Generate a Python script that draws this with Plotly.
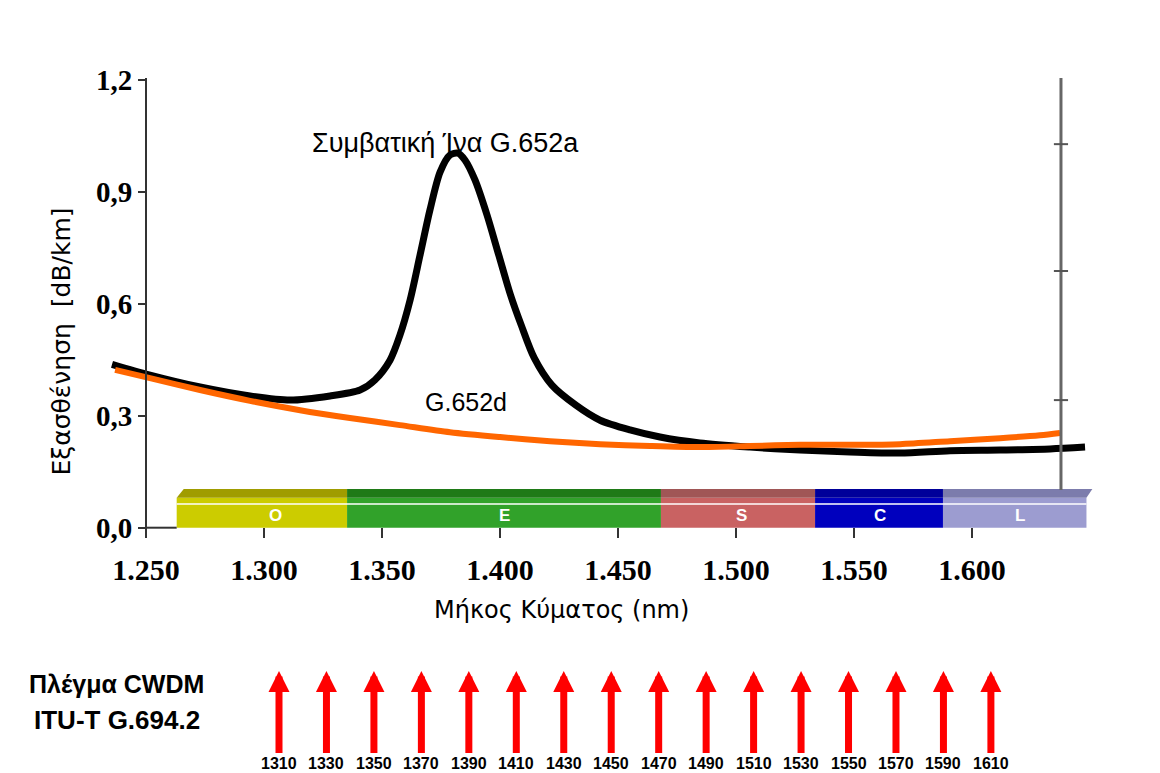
import plotly.graph_objects as go

# ---- data ----
wl_a = [1235.6, 1251.7, 1272.9, 1294.1, 1311.0, 1328.0, 1340.7, 1347.0, 1353.4, 1357.6,
        1361.9, 1366.1, 1370.3, 1374.6, 1378.8, 1382.2, 1385.2, 1389.4, 1394.5, 1399.5,
        1404.5, 1409.0, 1414.5, 1422.0, 1432.0, 1442.4, 1455.1, 1467.8, 1484.7, 1505.9,
        1527.1, 1548.3, 1569.5, 1590.7, 1611.9, 1633.1, 1647.9]
att_a = [0.438, 0.409, 0.377, 0.353, 0.342, 0.353, 0.369, 0.396, 0.449, 0.516,
         0.610, 0.730, 0.851, 0.953, 0.999, 1.004, 0.985, 0.932, 0.838, 0.730,
         0.623, 0.543, 0.455, 0.382, 0.329, 0.288, 0.262, 0.243, 0.227, 0.216,
         0.208, 0.203, 0.200, 0.206, 0.208, 0.211, 0.216]

wl_d = [1236.9, 1251.7, 1272.9, 1294.1, 1315.3, 1336.4, 1357.6, 1378.8, 1400.0, 1421.2,
        1442.4, 1463.6, 1484.7, 1505.9, 1527.1, 1548.3, 1569.5, 1590.7, 1611.9, 1628.8,
        1637.3]
att_d = [0.423, 0.401, 0.369, 0.340, 0.315, 0.294, 0.275, 0.256, 0.243, 0.232,
         0.224, 0.219, 0.216, 0.219, 0.222, 0.222, 0.224, 0.232, 0.240, 0.248,
         0.254]

band_names = ["O", "E", "S", "C", "L"]
band_edges = [1263.0, 1335.2, 1468.2, 1533.5, 1587.7, 1648.5]
band_label_wl = [1304.7, 1402.0, 1502.5, 1561.0, 1620.3]
band_front = ["#CCCC00", "#31A22A", "#C96262", "#0000BE", "#9C9CD0"]
band_top = ["#A09C00", "#1F7A17", "#A05656", "#00009A", "#7C7CAC"]

cwdm_channels = [1310, 1330, 1350, 1370, 1390, 1410, 1430, 1450, 1470, 1490,
                 1510, 1530, 1550, 1570, 1590, 1610]
cwdm_labels = [str(c) for c in cwdm_channels]

x_tickvals = [1250, 1300, 1350, 1400, 1450, 1500, 1550, 1600]
x_ticktext = ["1.250", "1.300", "1.350", "1.400", "1.450", "1.500", "1.550", "1.600"]
y_tickvals = [0.0, 0.3, 0.6, 0.9, 1.2]
y_ticktext = ["0,0", "0,3", "0,6", "0,9", "1,2"]

W, H = 1160, 773

fig = go.Figure()

fig.add_trace(go.Scatter(x=wl_a, y=att_a, mode="lines",
                         line=dict(color="#000000", width=7, shape="spline", smoothing=0.8),
                         hoverinfo="skip", showlegend=False))
fig.add_trace(go.Scatter(x=wl_d, y=att_d, mode="lines",
                         line=dict(color="#FF6600", width=6, shape="spline", smoothing=0.8),
                         hoverinfo="skip", showlegend=False))
# invisible trace for the CWDM grid axis
fig.add_trace(go.Scatter(x=cwdm_channels, y=[-1] * len(cwdm_channels), xaxis="x2", yaxis="y",
                         mode="markers", marker=dict(opacity=0), hoverinfo="skip",
                         showlegend=False))

shapes = []
# wavelength bands (3D-like bars)
y_front_top = 0.08
y_top = 0.104
for i, name in enumerate(band_names):
    x0, x1 = band_edges[i], band_edges[i + 1]
    shapes.append(dict(type="rect", xref="x", yref="y", x0=x0, x1=x1, y0=0, y1=y_front_top,
                       fillcolor=band_front[i], line=dict(width=0), layer="above"))
    left = x0 + (3 if i == 0 else 0)
    right = x1 + (2.5 if i == len(band_names) - 1 else 0)
    shapes.append(dict(type="path", xref="x", yref="y",
                       path=f"M {x0},{y_front_top} L {left},{y_top} L {right},{y_top} L {x1},{y_front_top} Z",
                       fillcolor=band_top[i], line=dict(width=0), layer="above"))
shapes.append(dict(type="line", xref="x", yref="y", x0=band_edges[0], x1=band_edges[-1],
                   y0=0.0635, y1=0.0635, line=dict(color="white", width=1.5), layer="above"))
# small piece of x axis at y = 0
shapes.append(dict(type="line", xref="x", yref="y", x0=1250, x1=band_edges[0], y0=0, y1=0,
                   line=dict(color="#333333", width=2)))
# right-hand vertical line with ticks
xr = 1637.7
shapes.append(dict(type="line", xref="x", yref="y", x0=xr, x1=xr, y0=0.101, y1=1.205,
                   line=dict(color="#666666", width=3)))
for yt in [1.028, 0.688, 0.342]:
    shapes.append(dict(type="line", xref="x", yref="y", x0=xr - 3, x1=xr + 3, y0=yt, y1=yt,
                       line=dict(color="#555555", width=2)))

annotations = []
for i, name in enumerate(band_names):
    annotations.append(dict(x=band_label_wl[i], y=0.032, xref="x", yref="y", text=name,
                            showarrow=False, font=dict(family="Liberation Sans", size=17,
                                                       color="white", weight="bold")))
annotations.append(dict(x=445 / W, y=1 - 126 / H, xref="paper", yref="paper",
                        text="Συμβατική Ίνα G.652a", showarrow=False,
                        font=dict(family="Liberation Sans", size=27, color="black")))
annotations.append(dict(x=466 / W, y=1 - 402 / H, xref="paper", yref="paper",
                        text="G.652d", showarrow=False,
                        font=dict(family="Liberation Sans", size=25, color="black")))
annotations.append(dict(x=561 / W, y=1 - 626 / H, xref="paper", yref="paper",
                        text="Μήκος Κύματος (nm)", showarrow=False,
                        font=dict(family="DejaVu Sans", size=24, color="black")))
annotations.append(dict(x=44 / W, y=1 - 342 / H, xref="paper", yref="paper",
                        text="Εξασθένηση  [dB/km]", showarrow=False, textangle=-90,
                        font=dict(family="DejaVu Sans", size=25, color="black")))
annotations.append(dict(x=27 / W, y=1 - 700 / H, xref="paper", yref="paper", xanchor="left",
                        text="Πλέγμα CWDM", showarrow=False,
                        font=dict(family="Liberation Sans", size=25, color="black", weight="bold")))
annotations.append(dict(x=32 / W, y=1 - 737 / H, xref="paper", yref="paper", xanchor="left",
                        text="ITU-T G.694.2", showarrow=False,
                        font=dict(family="Liberation Sans", size=26, color="black", weight="bold")))
for c, lab in zip(cwdm_channels, cwdm_labels):
    annotations.append(dict(x=c, y=1 - 671 / H, xref="x2", yref="paper", text=lab,
                            showarrow=True, ax=0, ay=92, arrowcolor="#FF0000", arrowwidth=7,
                            arrowhead=2, arrowsize=0.6, standoff=0, startstandoff=0,
                            font=dict(family="Liberation Sans", size=16, color="black",
                                      weight="bold")))

# axis geometry (pixels -> data)
px_per_nm = 2.36
x_left = 1250 - 146 / px_per_nm
x_right = 1250 + (W - 146) / px_per_nm
px_per_db = 373.1
y0_px = 527.7
y_dom = [1 - 538 / H, 1 - 78 / H]
y_lo = (y0_px - 538) / px_per_db
y_hi = (y0_px - 78) / px_per_db

px2 = 2.373
x2_left = 1310 - 279 / px2
x2_right = 1310 + (W - 279) / px2

fig.update_layout(
    width=W, height=H,
    margin=dict(l=0, r=0, t=0, b=0, autoexpand=False),
    paper_bgcolor="white", plot_bgcolor="rgba(0,0,0,0)",
    shapes=shapes, annotations=annotations,
    xaxis=dict(domain=[0, 1], range=[x_left, x_right], anchor="y", automargin=False,
               tickvals=x_tickvals, ticktext=x_ticktext, ticks="inside", ticklen=10,
               tickcolor="#333333", tickwidth=1.5, showline=False, showgrid=False,
               zeroline=False, ticklabelstandoff=11,
               tickfont=dict(family="Liberation Serif", size=30, color="black", weight="bold")),
    xaxis2=dict(domain=[0, 1], range=[x2_left, x2_right], overlaying="x", anchor="y",
                visible=False, automargin=False),
    yaxis=dict(domain=y_dom, range=[y_lo, y_hi], anchor="free", position=146 / W,
               automargin=False,
               tickvals=y_tickvals, ticktext=y_ticktext, ticks="outside", ticklen=7,
               tickwidth=2, tickcolor="#333333", showline=True, linecolor="#333333",
               linewidth=2, showgrid=False, zeroline=False,
               tickfont=dict(family="Liberation Serif", size=29, color="black", weight="bold")),
    showlegend=False,
)

fig.write_html("out.html")
